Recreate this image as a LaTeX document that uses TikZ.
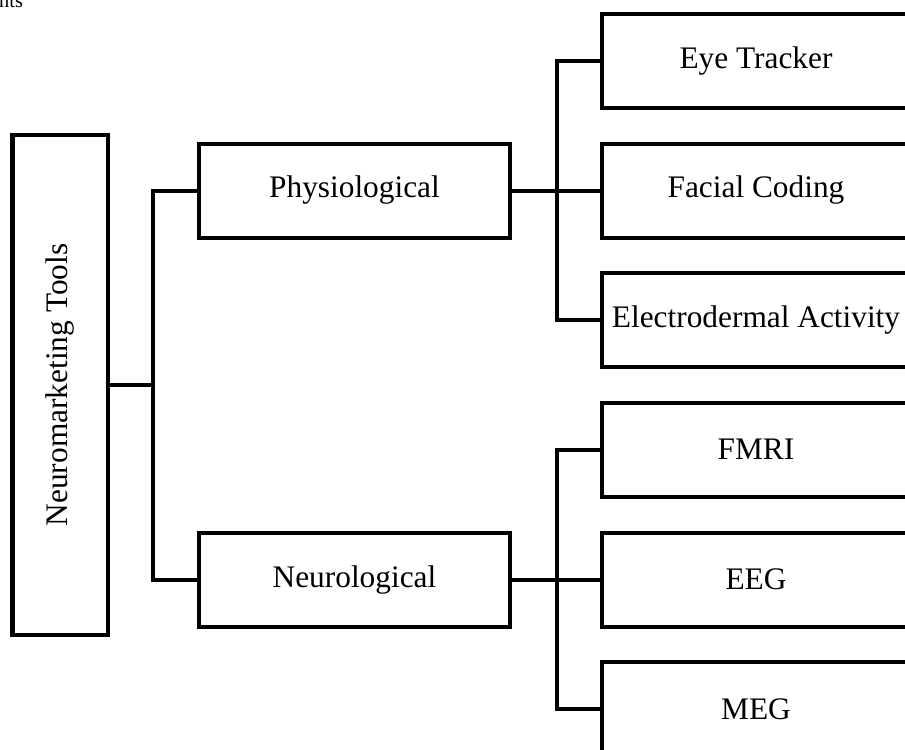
\documentclass[tikz,border=0pt]{standalone}
\usepackage{fontspec}
\setmainfont{Liberation Serif}
\usepackage{tikz}
\usetikzlibrary{positioning}
\tikzstyle{rootbox}  = [rectangle, minimum width=12.5cm, minimum height=2.375cm, text centered, draw=black, line width=0.1cm]
\tikzstyle{groupbox} = [rectangle, minimum width=7.775cm, minimum height=2.35cm, text centered, draw=black, line width=0.1cm]
\tikzstyle{toolbox}  = [rectangle, minimum width=7.7cm, minimum height=2.35cm, text centered, draw=black, line width=0.1cm]
\tikzstyle{link}     = [line width=0.1cm]
\tikzset{every node/.style={align=center, font=\fontsize{22.3}{26}\selectfont}}

\begin{document}
\begin{tikzpicture}
    \useasboundingbox (0,0) rectangle (22.625,-18.725);
    \node (cut)  at ( 0.7,    -0.18) [anchor=base east, font=\fontsize{14.5}{16}\selectfont] {nts};

    \node (root) at ( 1.5,    -9.625)  [rootbox, rotate=90] {Neuromarketing Tools};
    \node (phys) at ( 8.8625, -4.7625) [groupbox] {Physiological};
    \node (neur) at ( 8.8625, -14.4875)[groupbox] {Neurological};

    \node (eye)  at (18.9,    -1.525)  [toolbox] {Eye Tracker};
    \node (fac)  at (18.9,    -4.7625) [toolbox] {Facial Coding};
    \node (eda)  at (18.9,    -8.0)    [toolbox] {Electrodermal Activity};
    \node (fmri) at (18.9,    -11.2375)[toolbox] {FMRI};
    \node (eeg)  at (18.9,    -14.4875)[toolbox] {EEG};
    \node (meg)  at (18.9,    -17.725) [toolbox] {MEG};

    \coordinate (rootbus) at ( 3.825, -9.625);
    \coordinate (physbus) at (13.925, -4.7625);
    \coordinate (neurbus) at (13.925, -14.4875);

    \draw [link] (root.south) -- (rootbus);
    \draw [link] (phys.west) -| (rootbus) |- (neur.west);
    \draw [link] (phys) -- (fac);
    \draw [link] (eye.west) -| (physbus) |- (eda.west);
    \draw [link] (neur) -- (eeg);
    \draw [link] (fmri.west) -| (neurbus) |- (meg.west);
\end{tikzpicture}
\end{document}
